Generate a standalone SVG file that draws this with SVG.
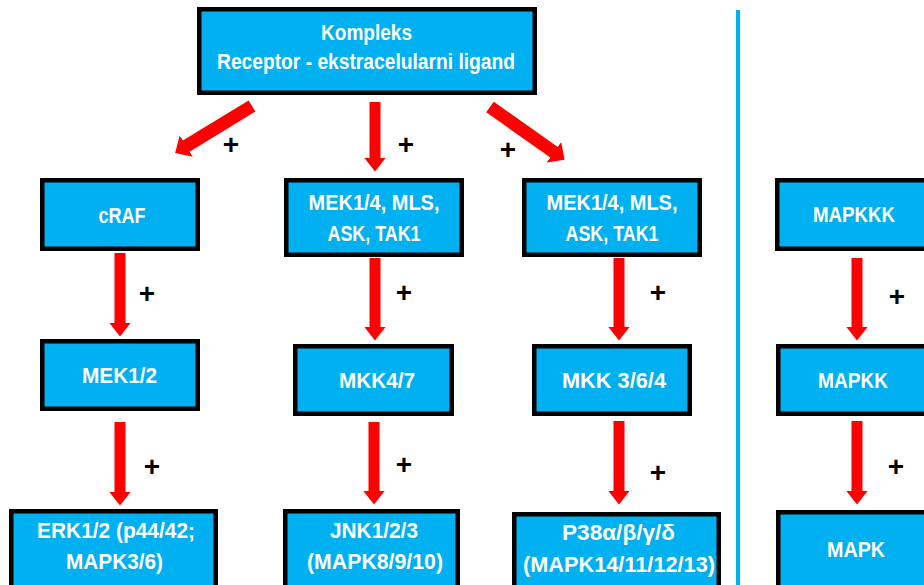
<svg xmlns="http://www.w3.org/2000/svg" width="924" height="585" viewBox="0 0 924 585">
<style>
.box{fill:#00b0f0;stroke:#000;stroke-width:4.5}
.lbl{font-family:"Liberation Sans",Arial,sans-serif;font-weight:bold;font-size:22px;fill:#fff;text-anchor:middle}
.plus{font-family:"Liberation Sans",Arial,sans-serif;font-weight:bold;font-size:28px;fill:#000;text-anchor:middle}
.arr{stroke:#ff0000;stroke-width:11;fill:none;marker-end:url(#head)}
.darr{stroke:#ff0000;stroke-width:13;fill:none;marker-end:url(#dhead)}
</style>
<defs>
<marker id="head" viewBox="0 0 14 22" markerWidth="14" markerHeight="22" markerUnits="userSpaceOnUse" refX="0.5" refY="11" orient="auto"><path d="M0,0 L14,11 L0,22 z" fill="#ff0000"/></marker>
<marker id="dhead" viewBox="0 0 13 25" markerWidth="13" markerHeight="25" markerUnits="userSpaceOnUse" refX="0.5" refY="12.5" orient="auto"><path d="M0,0 L13,12.5 L0,25 z" fill="#ff0000"/></marker>
</defs>
<rect x="736" y="10" width="4" height="580" fill="#00b0f0"/>
<g id="connectors">
<line class="darr" x1="252" y1="106" x2="185.8" y2="146.4"/>
<line class="arr" x1="375" y1="102" x2="375" y2="158"/>
<line class="darr" x1="490" y1="107" x2="554.4" y2="152.5"/>
<line class="arr" x1="120" y1="253" x2="120" y2="323"/>
<line class="arr" x1="375" y1="258" x2="375" y2="327"/>
<line class="arr" x1="619" y1="258" x2="619" y2="327"/>
<line class="arr" x1="857" y1="258" x2="857" y2="327"/>
<line class="arr" x1="120" y1="422" x2="120" y2="492"/>
<line class="arr" x1="374" y1="422" x2="374" y2="491"/>
<line class="arr" x1="619" y1="421" x2="619" y2="491"/>
<line class="arr" x1="857" y1="421" x2="857" y2="491"/>
</g>
<g id="plus-signs">
<text class="plus" x="231" y="154">+</text>
<text class="plus" x="406" y="154">+</text>
<text class="plus" x="508" y="159">+</text>
<text class="plus" x="147" y="303">+</text>
<text class="plus" x="404" y="302">+</text>
<text class="plus" x="658" y="302">+</text>
<text class="plus" x="897" y="306">+</text>
<text class="plus" x="152" y="476">+</text>
<text class="plus" x="404" y="474">+</text>
<text class="plus" x="658" y="482">+</text>
<text class="plus" x="896" y="476">+</text>
</g>
<g id="n-top">
<rect class="box" x="199.25" y="9.25" width="335.5" height="83.5"/>
<text class="lbl" x="366.5" y="40" textLength="91" lengthAdjust="spacingAndGlyphs">Kompleks</text>
<text class="lbl" x="366" y="69" textLength="298" lengthAdjust="spacingAndGlyphs">Receptor - ekstracelularni ligand</text>
</g>
<g id="n-craf">
<rect class="box" x="42.25" y="180.25" width="155.5" height="68.5"/>
<text class="lbl" x="122" y="223" textLength="47" lengthAdjust="spacingAndGlyphs">cRAF</text>
</g>
<g id="n-mek-a">
<rect class="box" x="286.25" y="180.25" width="175.5" height="74.5"/>
<text class="lbl" x="374" y="210" textLength="131" lengthAdjust="spacingAndGlyphs">MEK1/4, MLS,</text>
<text class="lbl" x="374" y="241" textLength="93" lengthAdjust="spacingAndGlyphs">ASK, TAK1</text>
</g>
<g id="n-mek-b">
<rect class="box" x="524.25" y="180.25" width="175.5" height="74.5"/>
<text class="lbl" x="612" y="210" textLength="131" lengthAdjust="spacingAndGlyphs">MEK1/4, MLS,</text>
<text class="lbl" x="612" y="241" textLength="93" lengthAdjust="spacingAndGlyphs">ASK, TAK1</text>
</g>
<g id="n-mapkkk">
<rect class="box" x="777.25" y="180.25" width="170" height="68.5"/>
<text class="lbl" x="854" y="222" textLength="82" lengthAdjust="spacingAndGlyphs">MAPKKK</text>
</g>
<g id="n-mek12">
<rect class="box" x="42.25" y="341.25" width="155.5" height="67.5"/>
<text class="lbl" x="119.5" y="383" textLength="75" lengthAdjust="spacingAndGlyphs">MEK1/2</text>
</g>
<g id="n-mkk47">
<rect class="box" x="295.25" y="346.25" width="156.5" height="67.5"/>
<text class="lbl" x="377" y="388" textLength="76" lengthAdjust="spacingAndGlyphs">MKK4/7</text>
</g>
<g id="n-mkk364">
<rect class="box" x="534.25" y="346.25" width="155.5" height="67.5"/>
<text class="lbl" x="614" y="388" textLength="104" lengthAdjust="spacingAndGlyphs">MKK 3/6/4</text>
</g>
<g id="n-mapkk">
<rect class="box" x="778.25" y="346.25" width="170" height="67.5"/>
<text class="lbl" x="853" y="388" textLength="70" lengthAdjust="spacingAndGlyphs">MAPKK</text>
</g>
<g id="n-erk">
<rect class="box" x="11.25" y="511.25" width="204.5" height="80"/>
<text class="lbl" x="116" y="538" textLength="158" lengthAdjust="spacingAndGlyphs">ERK1/2 (p44/42;</text>
<text class="lbl" x="114.5" y="569" textLength="97" lengthAdjust="spacingAndGlyphs">MAPK3/6)</text>
</g>
<g id="n-jnk">
<rect class="box" x="285.25" y="511.25" width="172.5" height="80"/>
<text class="lbl" x="374" y="538" textLength="88" lengthAdjust="spacingAndGlyphs">JNK1/2/3</text>
<text class="lbl" x="375" y="569" textLength="136" lengthAdjust="spacingAndGlyphs">(MAPK8/9/10)</text>
</g>
<g id="n-p38">
<rect class="box" x="514.25" y="514.25" width="204.5" height="80"/>
<text class="lbl" x="618.5" y="540" textLength="113" lengthAdjust="spacingAndGlyphs">P38α/β/γ/δ</text>
<text class="lbl" x="619" y="572" textLength="192" lengthAdjust="spacingAndGlyphs">(MAPK14/11/12/13)</text>
</g>
<g id="n-mapk">
<rect class="box" x="778.25" y="512.25" width="170" height="80"/>
<text class="lbl" x="856" y="557" textLength="58" lengthAdjust="spacingAndGlyphs">MAPK</text>
</g>
</svg>
